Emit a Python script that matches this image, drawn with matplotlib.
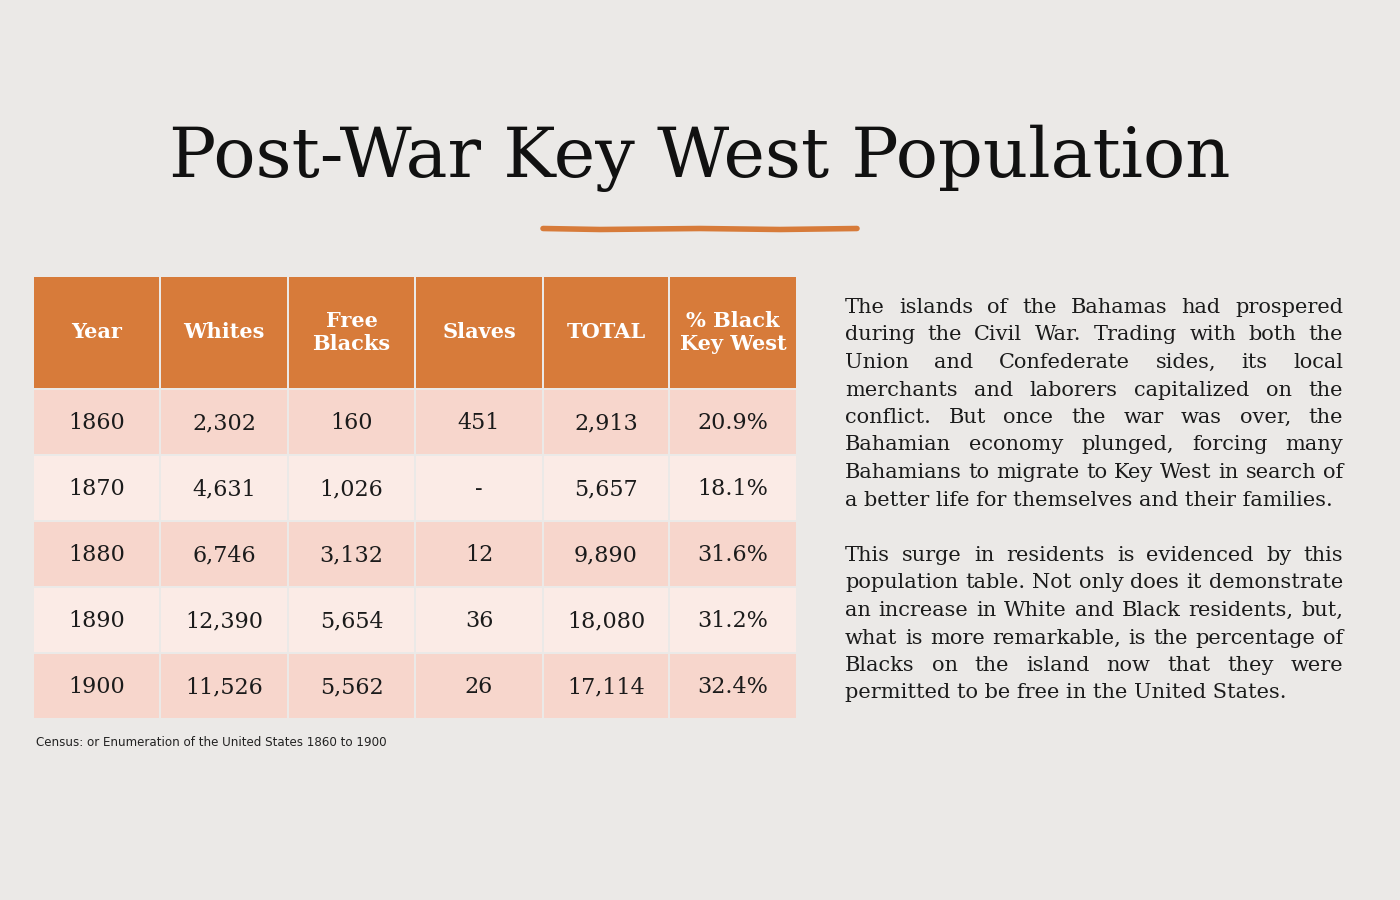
import matplotlib
matplotlib.use("Agg")
import matplotlib.pyplot as plt
from matplotlib.patches import Rectangle

# ── Data ──────────────────────────────────────────────────────────────────────
HEADERS = ["Year", "Whites", "Free\nBlacks", "Slaves", "TOTAL", "% Black\nKey West"]
YEARS = ["1860", "1870", "1880", "1890", "1900"]
WHITES = ["2,302", "4,631", "6,746", "12,390", "11,526"]
FREE_BLACKS = ["160", "1,026", "3,132", "5,654", "5,562"]
SLAVES = ["451", "-", "12", "36", "26"]
TOTALS = ["2,913", "5,657", "9,890", "18,080", "17,114"]
PCT_BLACK = ["20.9%", "18.1%", "31.6%", "31.2%", "32.4%"]

TITLE = "Post-War Key West Population"
SOURCE = "Census: or Enumeration of the United States 1860 to 1900"

PARA1 = [
    "The islands of the Bahamas had prospered",
    "during the Civil War.  Trading with both the",
    "Union and Confederate sides, its local",
    "merchants and laborers capitalized on the",
    "conflict.  But once the war was over, the",
    "Bahamian economy plunged, forcing many",
    "Bahamians to migrate to Key West in search of",
    "a better life for themselves and their families.",
]
PARA2 = [
    "This surge in residents is evidenced by this",
    "population table.  Not only does it demonstrate",
    "an increase in White and Black residents, but,",
    "what is more remarkable, is the percentage of",
    "Blacks on the island now that they were",
    "permitted to be free in the United States.",
]

# ── Style ─────────────────────────────────────────────────────────────────────
BG = "#ebe9e7"
ORANGE = "#d77b3a"
ROW_DARK = "#f7d6cc"
ROW_LIGHT = "#fbebe6"
INK = "#1b1b1b"
SERIF = "DejaVu Serif"

fig = plt.figure(figsize=(14, 9), dpi=100, facecolor=BG)
ax = fig.add_axes([0, 0, 1, 1])
ax.set_xlim(0, 1400)
ax.set_ylim(900, 0)
ax.axis("off")
ax.set_facecolor(BG)

# title + brush underline
ax.text(700, 177, TITLE, ha="center", va="baseline", fontsize=50.5,
        family=SERIF, color="#111111")
ax.plot([543, 600, 700, 780, 857], [228.5, 229.5, 228.5, 229.5, 228.5],
        color=ORANGE, lw=4, solid_capstyle="round")

# ── Table ─────────────────────────────────────────────────────────────────────
col_edges = [34, 161, 289, 416, 544, 670, 798]
head_top, head_bot = 277, 388
row_top, row_h = 390, 66
gap = 2

columns = [YEARS, WHITES, FREE_BLACKS, SLAVES, TOTALS, PCT_BLACK]

for c, head in enumerate(HEADERS):
    x0, x1 = col_edges[c], col_edges[c + 1]
    ax.add_patch(Rectangle((x0, head_top), x1 - x0 - gap, head_bot - head_top,
                           facecolor=ORANGE, edgecolor="none"))
    ax.text((x0 + x1 - gap) / 2, (head_top + head_bot) / 2, head,
            ha="center", va="center", fontsize=15, fontweight="bold",
            family=SERIF, color="white", linespacing=1.15)

for r in range(len(YEARS)):
    y0 = row_top + r * row_h
    color = ROW_DARK if r % 2 == 0 else ROW_LIGHT
    for c, col in enumerate(columns):
        x0, x1 = col_edges[c], col_edges[c + 1]
        ax.add_patch(Rectangle((x0, y0), x1 - x0 - gap, row_h - gap,
                               facecolor=color, edgecolor="none"))
        ax.text((x0 + x1 - gap) / 2, y0 + (row_h - gap) / 2 + 1, col[r],
                ha="center", va="center", fontsize=16, family=SERIF, color=INK)

ax.text(36, 742, SOURCE, ha="left", va="center", fontsize=8.6,
        family="DejaVu Sans", color="#222222")

# ── Justified paragraphs ──────────────────────────────────────────────────────
renderer = fig.canvas.get_renderer()
px_per_unit = fig.bbox.width / 1400
BODY_X0, BODY_X1 = 845, 1343
BODY_FS = 15.0
LINE_H = 27.5


def word_width(word):
    t = ax.text(0, 0, word, fontsize=BODY_FS, family=SERIF)
    w = t.get_window_extent(renderer).width / px_per_unit
    t.remove()
    return w


def draw_paragraph(lines, y_base):
    for i, line in enumerate(lines):
        y = y_base + i * LINE_H
        words = line.split()
        if i == len(lines) - 1:
            ax.text(BODY_X0, y, line.replace("  ", " "), ha="left", va="baseline",
                    fontsize=BODY_FS, family=SERIF, color=INK)
            continue
        widths = [word_width(w) for w in words]
        space = (BODY_X1 - BODY_X0 - sum(widths)) / (len(words) - 1)
        x = BODY_X0
        for w, wd in zip(words, widths):
            ax.text(x, y, w, ha="left", va="baseline", fontsize=BODY_FS,
                    family=SERIF, color=INK)
            x += wd + space


draw_paragraph(PARA1, 313)
draw_paragraph(PARA2, 561)

fig.savefig("out.png", dpi=100, facecolor=BG)
